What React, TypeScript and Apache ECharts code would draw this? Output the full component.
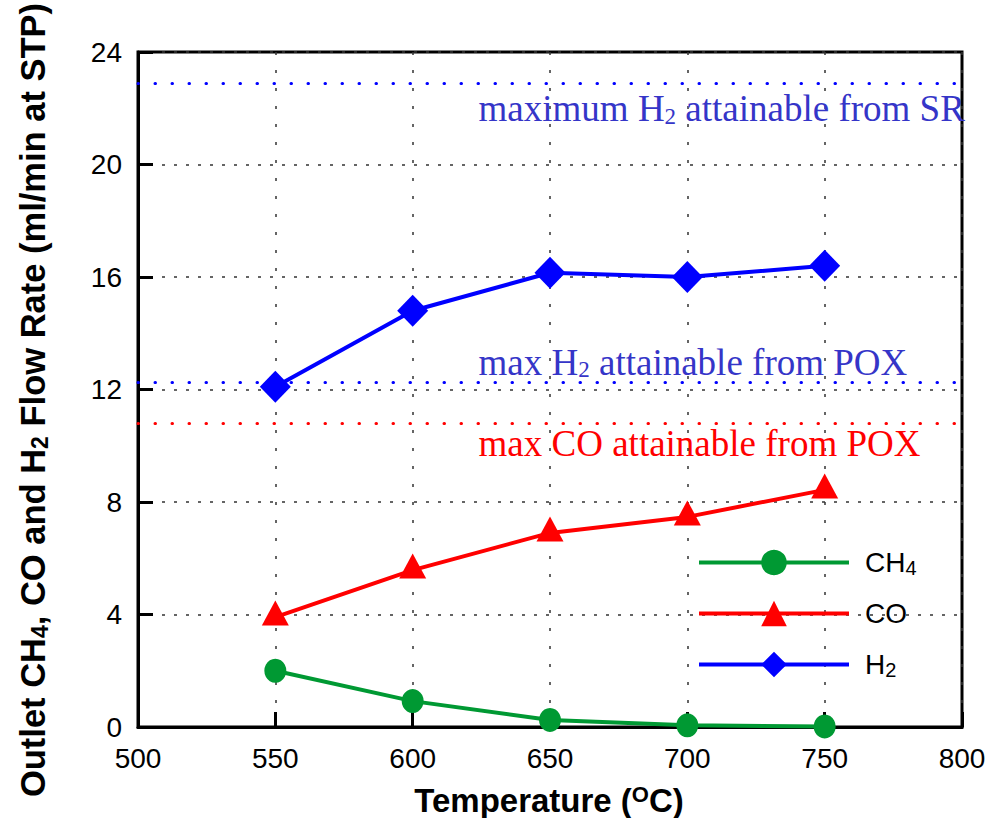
import React, { useEffect, useRef } from 'react';
import * as echarts from 'echarts';

// Outlet flow rates (ml/min at STP) versus reactor temperature (°C)
const temperatures = [550, 600, 650, 700, 750];
const ch4Flow = [2.0, 0.92, 0.25, 0.06, 0.02];
const coFlow = [3.91, 5.58, 6.9, 7.47, 8.43];
const h2Flow = [12.1, 14.8, 16.15, 16.0, 16.4];

// Theoretical maxima drawn as dotted reference lines
const maxH2FromSR = 22.9;
const maxH2FromPOX = 12.25;
const maxCOFromPOX = 10.8;

const seriesNames = ['CH4', 'CO', 'H2'];
const legendLabels: Record<string, string> = {
  CH4: '{n|CH}{s|4}',
  CO: '{n|CO}',
  H2: '{n|H}{s|2}',
};

const SANS = '"Liberation Sans", Arial, sans-serif';
const SERIF = '"Liberation Serif", "Times New Roman", serif';

const GREEN = '#009933';
const RED = '#ff0000';
const BLUE = '#0000ff';
const LABEL_BLUE = '#3535c8';

const pair = (xs: number[], ys: number[]) => xs.map((x, i) => [x, ys[i]]);

const dotted = (color: string) => ({
  color,
  width: 3,
  type: [0.5, 16.5] as number[],
  cap: 'round' as const,
});

export default function App() {
  const ref = useRef<HTMLDivElement>(null);

  useEffect(() => {
    document.body.style.margin = '0';
    const el = ref.current;
    if (!el) return;
    const chart = echarts.init(el, null, { renderer: 'svg' });

    const option: any = {
      animation: false,
      backgroundColor: '#ffffff',
      grid: {
        left: 138,
        right: 30,
        top: 52,
        bottom: 91,
        show: true,
        borderColor: '#000',
        borderWidth: 3,
        backgroundColor: 'transparent',
      },
      xAxis: {
        type: 'value',
        min: 500,
        max: 800,
        interval: 50,
        axisLine: { lineStyle: { color: '#000', width: 3 } },
        axisTick: { inside: true, length: 15, lineStyle: { color: '#000', width: 3 } },
        axisLabel: { fontSize: 28, fontFamily: SANS, color: '#000', margin: 17 },
        splitLine: { show: true, lineStyle: { color: '#333', width: 1.5, type: [3, 15] } },
      },
      yAxis: {
        type: 'value',
        min: 0,
        max: 24,
        interval: 4,
        axisLine: { lineStyle: { color: '#000', width: 3 } },
        axisTick: { inside: true, length: 15, lineStyle: { color: '#000', width: 3 } },
        axisLabel: { fontSize: 28, fontFamily: SANS, color: '#000', margin: 16 },
        splitLine: { show: true, lineStyle: { color: '#333', width: 1.5, type: [3, 9] } },
      },
      legend: {
        data: seriesNames,
        orient: 'vertical',
        left: 692,
        top: 542,
        itemWidth: 150,
        itemHeight: 32,
        itemGap: 21.5,
        lineStyle: { width: 4 },
        formatter: (name: string) => legendLabels[name],
        textStyle: {
          padding: [0, 0, 0, 11],
          rich: {
            n: { fontSize: 28, fontFamily: SANS, color: '#000', lineHeight: 34 },
            s: { fontSize: 20, fontFamily: SANS, color: '#000', lineHeight: 20, padding: [11, 0, 0, 0] },
          },
        },
      },
      series: [
        {
          name: 'CH4',
          type: 'line',
          data: pair(temperatures, ch4Flow),
          symbol: 'circle',
          symbolSize: [22, 24],
          itemStyle: { color: GREEN },
          lineStyle: { color: GREEN, width: 4 },
          z: 3,
        },
        {
          name: 'CO',
          type: 'line',
          data: pair(temperatures, coFlow),
          symbol: 'triangle',
          symbolSize: [27, 25],
          symbolOffset: [0, -4],
          itemStyle: { color: RED },
          lineStyle: { color: RED, width: 4 },
          z: 4,
          markLine: {
            silent: true,
            symbol: ['none', 'none'],
            label: { show: false },
            lineStyle: dotted(RED),
            data: [{ yAxis: maxCOFromPOX }],
          },
        },
        {
          name: 'H2',
          type: 'line',
          data: pair(temperatures, h2Flow),
          symbol: 'diamond',
          symbolSize: [31, 32],
          itemStyle: { color: BLUE },
          lineStyle: { color: BLUE, width: 4 },
          z: 5,
          markLine: {
            silent: true,
            symbol: ['none', 'none'],
            label: { show: false },
            lineStyle: dotted(BLUE),
            data: [{ yAxis: maxH2FromSR }, { yAxis: maxH2FromPOX }],
          },
        },
      ],
    };

    chart.setOption(option);

    // Annotation texts sit next to their reference lines
    const labelTemp = 624;
    const px = (v: number) => chart.convertToPixel({ gridIndex: 0 }, [labelTemp, v]) as number[];
    const [lx, ySR] = px(maxH2FromSR);
    const [, yH2POX] = px(maxH2FromPOX);
    const [, yCOPOX] = px(maxCOFromPOX);

    const serifRich = (color: string) => ({
      m: { fontSize: 37, fontFamily: SERIF, fill: color, lineHeight: 42 },
      s: { fontSize: 23, fontFamily: SERIF, fill: color, lineHeight: 23, padding: [15, 0, 0, 0] },
    });

    const sansBold = (size: number) => ({
      fontSize: size,
      fontWeight: 'bold',
      fontFamily: SANS,
      fill: '#000',
    });

    chart.setOption({
      graphic: [
        {
          type: 'text',
          x: lx,
          y: ySR + 26,
          style: {
            text: '{m|maximum H}{s|2}{m| attainable from SR}',
            rich: serifRich(LABEL_BLUE),
            textAlign: 'left',
            textVerticalAlign: 'middle',
          },
          z: 10,
        },
        {
          type: 'text',
          x: lx,
          y: yH2POX - 20,
          style: {
            text: '{m|max H}{s|2}{m| attainable from POX}',
            rich: serifRich(LABEL_BLUE),
            textAlign: 'left',
            textVerticalAlign: 'middle',
          },
          z: 10,
        },
        {
          type: 'text',
          x: lx,
          y: yCOPOX + 20,
          style: {
            text: '{m|max CO attainable from POX}',
            rich: serifRich(RED),
            textAlign: 'left',
            textVerticalAlign: 'middle',
          },
          z: 10,
        },
        {
          type: 'text',
          x: 549,
          y: 800,
          style: {
            text: '{b|Temperature (}{p|O}{b|C)}',
            rich: {
              b: { ...sansBold(33), lineHeight: 36 },
              p: { ...sansBold(22), lineHeight: 22, padding: [0, 0, 11, 0] },
            },
            textAlign: 'center',
            textVerticalAlign: 'middle',
          },
        },
        {
          type: 'text',
          x: 33,
          y: 400,
          rotation: Math.PI / 2,
          style: {
            text: '{b|Outlet CH}{s|4}{b|, CO and H}{s|2}{b| Flow Rate (ml/min at STP)}',
            rich: {
              b: { ...sansBold(34.5), lineHeight: 38 },
              s: { ...sansBold(23), lineHeight: 23, padding: [13, 0, 0, 0] },
            },
            textAlign: 'center',
            textVerticalAlign: 'middle',
          },
        },
      ],
    });

    return () => chart.dispose();
  }, []);

  return <div ref={ref} style={{ width: 992, height: 818 }} />;
}
